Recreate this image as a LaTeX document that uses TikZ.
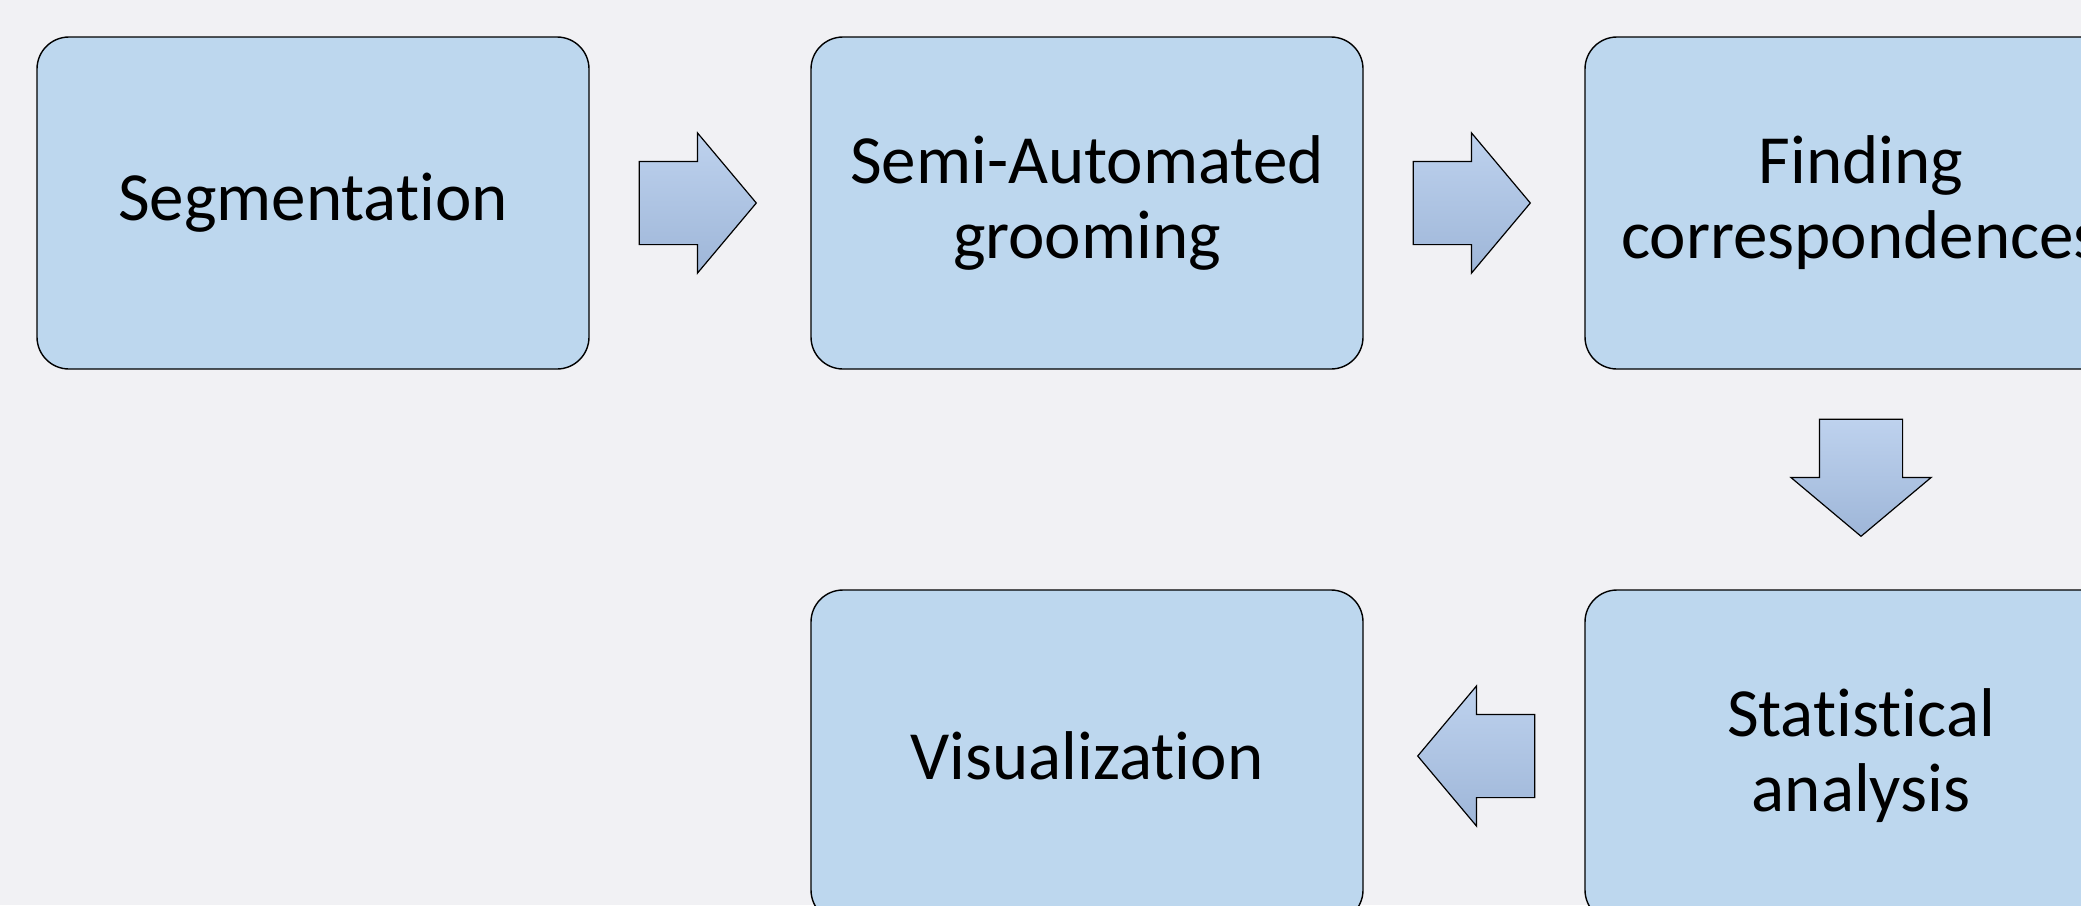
\documentclass[tikz,border=0pt]{standalone}
\usepackage{fontspec}
\setmainfont[Ligatures={NoCommon}]{Carlito}
\usetikzlibrary{shapes.arrows,calc}
\definecolor{bgcol}{RGB}{241,241,244}
\definecolor{boxfill}{RGB}{189,215,238}
\definecolor{arrtop}{RGB}{190,210,238}
\definecolor{arrbot}{RGB}{158,182,216}
\tikzset{
  stepbox/.style={draw=black, line width=0.7pt, fill=boxfill, rounded corners=16pt,
    minimum width=276pt, minimum height=166pt, align=center, inner sep=0pt,
    font=\fontsize{34.5}{37.5}\selectfont},
  blockarrow/.style={single arrow, draw=black, line width=0.6pt, top color=arrtop, bottom color=arrbot,
    minimum height=58.5pt, single arrow head extend=14.25pt,
    single arrow tip angle=100, inner xsep=0pt, inner ysep=20.5pt, anchor=tail},
  vblockarrow/.style={blockarrow, inner xsep=20.5pt, inner ysep=0pt, shape border rotate=270, anchor=tail}
}
\begin{document}
\begin{tikzpicture}[x=0.5pt,y=-0.5pt]
\useasboundingbox (0,0) rectangle (2081,905);
\fill[bgcol] (0,0) rectangle (2081,905);
\node[stepbox] (seg) at (313,203) {Segmentation};
\node[stepbox] (groom) at (1087,203) {Semi-Automated\\grooming};
\node[stepbox] (corr) at (1861,203) {Finding\\correspondences};
\node[stepbox] (stat) at (1861,756) {Statistical\\analysis};
\node[stepbox] (vis) at (1087,756) {Visualization};
\node[blockarrow] (a1) at ($(seg.east)+(49,0)$) {};
\node[blockarrow] (a2) at ($(groom.east)+(49,0)$) {};
\node[vblockarrow] (a3) at ($(corr.south)+(0,49)$) {};
\node[blockarrow, shape border rotate=180] (a4) at ($(stat.west)+(-49,0)$) {};
\end{tikzpicture}
\end{document}
